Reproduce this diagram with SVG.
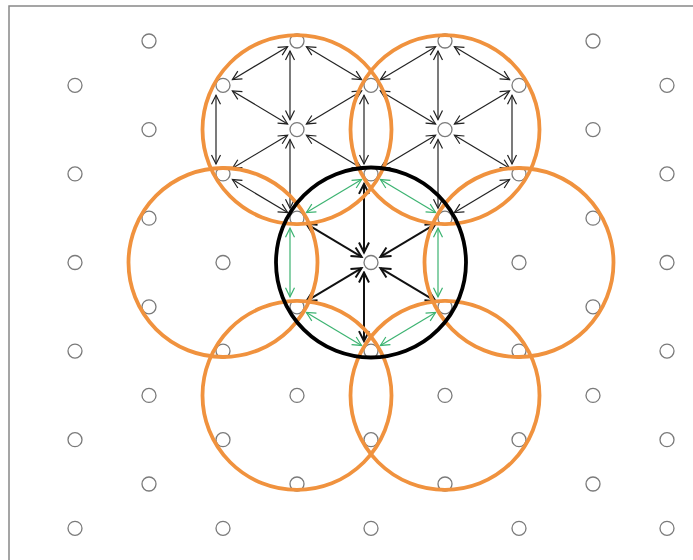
<svg xmlns="http://www.w3.org/2000/svg" width="693" height="560" viewBox="0 0 693 560">
<defs>
<style>
.node{fill:#fff;stroke:#7a7a7a;stroke-width:1.3}
.thin{fill:none;stroke:#222;stroke-width:1.2;marker-start:url(#ab);marker-end:url(#ab)}
.green{fill:none;stroke:#3cb371;stroke-width:1.2;marker-start:url(#ag);marker-end:url(#ag)}
.spoke{fill:none;stroke:#111;stroke-width:2;marker-start:url(#as);marker-end:url(#as)}
.orange{fill:none;stroke:#f0923e;stroke-width:3.8}
.black{fill:none;stroke:#000;stroke-width:3.8}
</style>
<marker id="ab" viewBox="-11 -6 13 12" markerWidth="13" markerHeight="12" refX="0" refY="0" orient="auto-start-reverse" markerUnits="userSpaceOnUse"><path d="M-9,-4.5 L0,0 L-9,4.5" fill="none" stroke="#222" stroke-width="1.2"/></marker>
<marker id="ag" viewBox="-11 -6 13 12" markerWidth="13" markerHeight="12" refX="0" refY="0" orient="auto-start-reverse" markerUnits="userSpaceOnUse"><path d="M-9,-4.5 L0,0 L-9,4.5" fill="none" stroke="#3cb371" stroke-width="1.2"/></marker>
<marker id="as" viewBox="-12 -7 14 14" markerWidth="14" markerHeight="14" refX="0" refY="0" orient="auto-start-reverse" markerUnits="userSpaceOnUse"><path d="M-10,-5 L0,0 L-10,5" fill="none" stroke="#111" stroke-width="2"/></marker>
</defs>
<rect x="0" y="0" width="693" height="560" fill="#fff"/>
<path d="M9,560 V6 H693" fill="none" stroke="#888" stroke-width="1.5"/>
<g id="connectors">
<line class="thin" x1="287.6" y1="46.65" x2="232.4" y2="79.65"/>
<line class="thin" x1="306.4" y1="46.65" x2="361.6" y2="79.65"/>
<line class="thin" x1="216" y1="95.3" x2="216" y2="163.9"/>
<line class="thin" x1="364" y1="95.3" x2="364" y2="163.9"/>
<line class="thin" x1="290" y1="51" x2="290" y2="119.6"/>
<line class="thin" x1="232.4" y1="90.95" x2="287.6" y2="123.95"/>
<line class="thin" x1="306.4" y1="123.95" x2="361.6" y2="90.95"/>
<line class="thin" x1="287.6" y1="135.25" x2="232.4" y2="168.25"/>
<line class="thin" x1="306.4" y1="135.25" x2="361.6" y2="168.25"/>
<line class="thin" x1="290" y1="139.6" x2="290" y2="208.2"/>
<line class="thin" x1="232.4" y1="179.55" x2="287.6" y2="212.55"/>
<line class="thin" x1="435.6" y1="46.65" x2="380.4" y2="79.65"/>
<line class="thin" x1="454.4" y1="46.65" x2="509.6" y2="79.65"/>
<line class="thin" x1="512" y1="95.3" x2="512" y2="163.9"/>
<line class="thin" x1="438" y1="51" x2="438" y2="119.6"/>
<line class="thin" x1="435.6" y1="123.95" x2="380.4" y2="90.95"/>
<line class="thin" x1="454.4" y1="123.95" x2="509.6" y2="90.95"/>
<line class="thin" x1="435.6" y1="135.25" x2="380.4" y2="168.25"/>
<line class="thin" x1="454.4" y1="135.25" x2="509.6" y2="168.25"/>
<line class="thin" x1="438" y1="139.6" x2="438" y2="208.2"/>
<line class="thin" x1="509.6" y1="179.55" x2="454.4" y2="212.55"/>
<line class="green" x1="380.4" y1="179.55" x2="435.6" y2="212.55"/>
<line class="green" x1="438" y1="228.2" x2="438" y2="296.8"/>
<line class="green" x1="435.6" y1="312.45" x2="380.4" y2="345.45"/>
<line class="green" x1="361.6" y1="345.45" x2="306.4" y2="312.45"/>
<line class="green" x1="290" y1="296.8" x2="290" y2="228.2"/>
<line class="green" x1="306.4" y1="212.55" x2="361.6" y2="179.55"/>
<line class="spoke" x1="364" y1="252.5" x2="364" y2="183.9"/>
<line class="spoke" x1="380.4" y1="256.85" x2="435.6" y2="223.85"/>
<line class="spoke" x1="380.4" y1="268.15" x2="435.6" y2="301.15"/>
<line class="spoke" x1="364" y1="272.5" x2="364" y2="341.1"/>
<line class="spoke" x1="361.6" y1="268.15" x2="306.4" y2="301.15"/>
<line class="spoke" x1="361.6" y1="256.85" x2="306.4" y2="223.85"/>
</g>
<g id="nodes">
<g id="n0a"><circle class="node" cx="149" cy="41" r="7"/></g>
<g id="n0b"><circle class="node" cx="297" cy="41" r="7"/></g>
<g id="n0c"><circle class="node" cx="445" cy="41" r="7"/></g>
<g id="n0d"><circle class="node" cx="593" cy="41" r="7"/></g>
<g id="n1a"><circle class="node" cx="75" cy="85.3" r="7"/></g>
<g id="n1b"><circle class="node" cx="223" cy="85.3" r="7"/></g>
<g id="n1c"><circle class="node" cx="371" cy="85.3" r="7"/></g>
<g id="n1d"><circle class="node" cx="519" cy="85.3" r="7"/></g>
<g id="n1e"><circle class="node" cx="667" cy="85.3" r="7"/></g>
<g id="n2a"><circle class="node" cx="149" cy="129.6" r="7"/></g>
<g id="n2b"><circle class="node" cx="297" cy="129.6" r="7"/></g>
<g id="n2c"><circle class="node" cx="445" cy="129.6" r="7"/></g>
<g id="n2d"><circle class="node" cx="593" cy="129.6" r="7"/></g>
<g id="n3a"><circle class="node" cx="75" cy="173.9" r="7"/></g>
<g id="n3b"><circle class="node" cx="223" cy="173.9" r="7"/></g>
<g id="n3c"><circle class="node" cx="371" cy="173.9" r="7"/></g>
<g id="n3d"><circle class="node" cx="519" cy="173.9" r="7"/></g>
<g id="n3e"><circle class="node" cx="667" cy="173.9" r="7"/></g>
<g id="n4a"><circle class="node" cx="149" cy="218.2" r="7"/></g>
<g id="n4b"><circle class="node" cx="297" cy="218.2" r="7"/></g>
<g id="n4c"><circle class="node" cx="445" cy="218.2" r="7"/></g>
<g id="n4d"><circle class="node" cx="593" cy="218.2" r="7"/></g>
<g id="n5a"><circle class="node" cx="75" cy="262.5" r="7"/></g>
<g id="n5b"><circle class="node" cx="223" cy="262.5" r="7"/></g>
<g id="n5c"><circle class="node" cx="371" cy="262.5" r="7"/></g>
<g id="n5d"><circle class="node" cx="519" cy="262.5" r="7"/></g>
<g id="n5e"><circle class="node" cx="667" cy="262.5" r="7"/></g>
<g id="n6a"><circle class="node" cx="149" cy="306.8" r="7"/></g>
<g id="n6b"><circle class="node" cx="297" cy="306.8" r="7"/></g>
<g id="n6c"><circle class="node" cx="445" cy="306.8" r="7"/></g>
<g id="n6d"><circle class="node" cx="593" cy="306.8" r="7"/></g>
<g id="n7a"><circle class="node" cx="75" cy="351.1" r="7"/></g>
<g id="n7b"><circle class="node" cx="223" cy="351.1" r="7"/></g>
<g id="n7c"><circle class="node" cx="371" cy="351.1" r="7"/></g>
<g id="n7d"><circle class="node" cx="519" cy="351.1" r="7"/></g>
<g id="n7e"><circle class="node" cx="667" cy="351.1" r="7"/></g>
<g id="n8a"><circle class="node" cx="149" cy="395.4" r="7"/></g>
<g id="n8b"><circle class="node" cx="297" cy="395.4" r="7"/></g>
<g id="n8c"><circle class="node" cx="445" cy="395.4" r="7"/></g>
<g id="n8d"><circle class="node" cx="593" cy="395.4" r="7"/></g>
<g id="n9a"><circle class="node" cx="75" cy="439.7" r="7"/></g>
<g id="n9b"><circle class="node" cx="223" cy="439.7" r="7"/></g>
<g id="n9c"><circle class="node" cx="371" cy="439.7" r="7"/></g>
<g id="n9d"><circle class="node" cx="519" cy="439.7" r="7"/></g>
<g id="n9e"><circle class="node" cx="667" cy="439.7" r="7"/></g>
<g id="n10a"><circle class="node" cx="149" cy="484" r="7"/></g>
<g id="n10b"><circle class="node" cx="297" cy="484" r="7"/></g>
<g id="n10c"><circle class="node" cx="445" cy="484" r="7"/></g>
<g id="n10d"><circle class="node" cx="593" cy="484" r="7"/></g>
<g id="n11a"><circle class="node" cx="75" cy="528.3" r="7"/></g>
<g id="n11b"><circle class="node" cx="223" cy="528.3" r="7"/></g>
<g id="n11c"><circle class="node" cx="371" cy="528.3" r="7"/></g>
<g id="n11d"><circle class="node" cx="519" cy="528.3" r="7"/></g>
<g id="n11e"><circle class="node" cx="667" cy="528.3" r="7"/></g>
</g>
<g id="ranges">
<g id="range-tl"><circle class="orange" cx="297" cy="129.6" r="94.5"/></g>
<g id="range-tr"><circle class="orange" cx="445" cy="129.6" r="94.5"/></g>
<g id="range-l"><circle class="orange" cx="223" cy="262.5" r="94.5"/></g>
<g id="range-r"><circle class="orange" cx="519" cy="262.5" r="94.5"/></g>
<g id="range-bl"><circle class="orange" cx="297" cy="395.4" r="94.5"/></g>
<g id="range-br"><circle class="orange" cx="445" cy="395.4" r="94.5"/></g>
<g id="range-c"><circle class="black" cx="371" cy="262.5" r="95"/></g>
</g>
</svg>
